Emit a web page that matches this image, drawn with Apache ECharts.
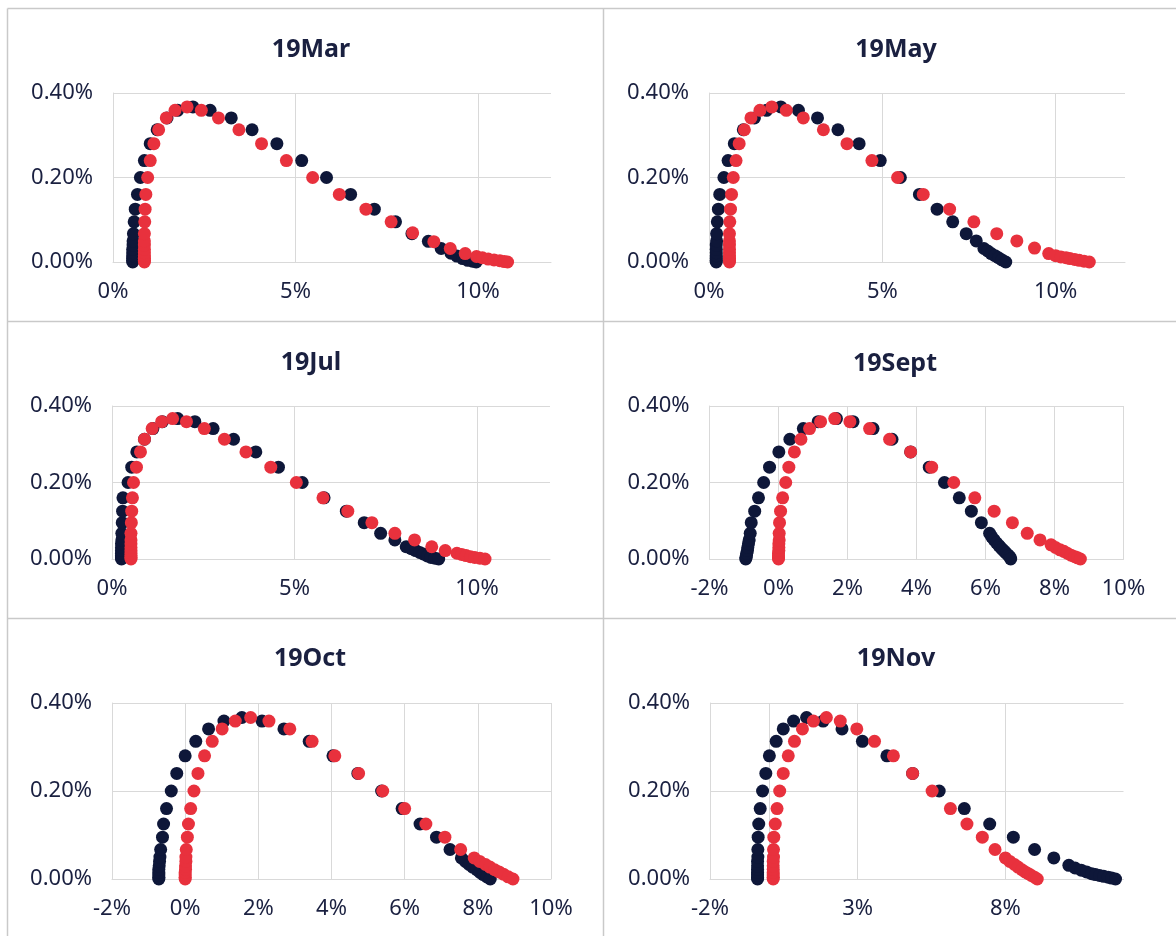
<!DOCTYPE html>
<html>
<head>
<meta charset="utf-8">
<script src="https://cdn.jsdelivr.net/npm/echarts@6/dist/echarts.min.js"></script>
<style>
html,body{margin:0;padding:0;background:#fff;}
#chart{width:1176px;height:936px;}
</style>
</head>
<body>
<div id="chart"></div>
<script>
// ---- data (x in %, y in %) ----
const titles = ['19Mar', '19May', '19Jul', '19Sept', '19Oct', '19Nov'];
const seriesNames = ['Series A', 'Series B'];

const mar_a = [[0.54,0],[0.54,0.004],[0.54,0.009],[0.54,0.015],[0.54,0.022],[0.54,0.03],[0.55,0.04],[0.55,0.05],[0.56,0.067],[0.58,0.095],[0.61,0.125],[0.67,0.16],[0.75,0.20],[0.86,0.24],[1.02,0.28],[1.21,0.313],[1.48,0.341],[1.77,0.359],[2.19,0.367],[2.66,0.359],[3.24,0.341],[3.81,0.313],[4.49,0.28],[5.17,0.24],[5.85,0.20],[6.51,0.16],[7.16,0.125],[7.74,0.095],[8.19,0.067],[8.64,0.049],[8.99,0.032],[9.26,0.021],[9.42,0.014],[9.58,0.008],[9.72,0.004],[9.85,0.002],[9.95,0]];
const mar_b = [[0.86,0],[0.86,0.004],[0.86,0.009],[0.86,0.015],[0.86,0.022],[0.86,0.03],[0.86,0.04],[0.86,0.05],[0.86,0.067],[0.87,0.095],[0.88,0.125],[0.90,0.16],[0.95,0.20],[1.02,0.24],[1.12,0.28],[1.25,0.313],[1.46,0.341],[1.70,0.359],[2.03,0.367],[2.42,0.359],[2.89,0.341],[3.45,0.313],[4.07,0.28],[4.75,0.24],[5.47,0.20],[6.20,0.16],[6.93,0.125],[7.62,0.095],[8.21,0.069],[8.79,0.048],[9.24,0.032],[9.65,0.02],[9.96,0.013],[10.12,0.01],[10.28,0.007],[10.44,0.005],[10.6,0.003],[10.72,0.001],[10.81,0]];

const may_a = [[0.21,0],[0.21,0.004],[0.21,0.009],[0.21,0.015],[0.21,0.022],[0.21,0.03],[0.21,0.04],[0.22,0.05],[0.22,0.067],[0.24,0.095],[0.27,0.125],[0.31,0.16],[0.43,0.20],[0.55,0.24],[0.73,0.28],[0.99,0.313],[1.31,0.341],[1.66,0.359],[2.07,0.367],[2.58,0.359],[3.13,0.341],[3.72,0.313],[4.33,0.28],[4.94,0.24],[5.52,0.20],[6.07,0.16],[6.58,0.125],[7.03,0.095],[7.42,0.067],[7.71,0.05],[7.93,0.032],[8.04,0.026],[8.14,0.02],[8.25,0.015],[8.35,0.01],[8.45,0.005],[8.56,0]];
const may_b = [[0.59,0],[0.59,0.004],[0.59,0.009],[0.59,0.015],[0.59,0.022],[0.59,0.03],[0.59,0.04],[0.59,0.05],[0.59,0.067],[0.60,0.095],[0.62,0.125],[0.65,0.16],[0.70,0.20],[0.78,0.24],[0.87,0.28],[1.02,0.313],[1.21,0.341],[1.47,0.359],[1.81,0.367],[2.23,0.359],[2.72,0.341],[3.30,0.313],[3.98,0.28],[4.70,0.24],[5.44,0.20],[6.18,0.16],[6.94,0.125],[7.64,0.095],[8.30,0.067],[8.88,0.05],[9.39,0.033],[9.80,0.02],[10.0,0.015],[10.15,0.012],[10.3,0.01],[10.41,0.008],[10.55,0.006],[10.68,0.004],[10.82,0.002],[10.97,0]];

const jul_a = [[0.26,0],[0.26,0.004],[0.26,0.009],[0.26,0.015],[0.26,0.022],[0.26,0.03],[0.26,0.04],[0.27,0.05],[0.27,0.067],[0.28,0.095],[0.29,0.125],[0.30,0.16],[0.44,0.20],[0.54,0.24],[0.68,0.28],[0.89,0.313],[1.12,0.341],[1.38,0.359],[1.80,0.367],[2.27,0.359],[2.77,0.341],[3.33,0.313],[3.94,0.28],[4.56,0.24],[5.21,0.20],[5.81,0.16],[6.42,0.125],[6.91,0.095],[7.36,0.067],[7.75,0.05],[8.06,0.032],[8.2,0.027],[8.32,0.022],[8.43,0.017],[8.53,0.013],[8.64,0.008],[8.74,0.004],[8.85,0.002],[8.95,0]];
const jul_b = [[0.52,0],[0.52,0.004],[0.52,0.009],[0.52,0.015],[0.52,0.022],[0.52,0.03],[0.52,0.04],[0.52,0.05],[0.52,0.067],[0.53,0.095],[0.54,0.125],[0.56,0.16],[0.59,0.20],[0.67,0.24],[0.78,0.28],[0.89,0.313],[1.10,0.341],[1.36,0.359],[1.66,0.367],[2.04,0.359],[2.53,0.341],[3.08,0.313],[3.67,0.28],[4.35,0.24],[5.05,0.20],[5.78,0.16],[6.46,0.125],[7.12,0.095],[7.75,0.067],[8.29,0.05],[8.76,0.032],[9.13,0.022],[9.45,0.015],[9.58,0.012],[9.70,0.009],[9.82,0.006],[9.94,0.004],[10.08,0.002],[10.22,0]];

const sep_a = [[-0.95,0],[-0.94,0.004],[-0.93,0.009],[-0.92,0.015],[-0.90,0.022],[-0.89,0.03],[-0.87,0.04],[-0.85,0.05],[-0.82,0.067],[-0.79,0.095],[-0.69,0.125],[-0.58,0.16],[-0.43,0.20],[-0.26,0.24],[0.01,0.28],[0.33,0.313],[0.72,0.341],[1.15,0.359],[1.68,0.367],[2.16,0.359],[2.74,0.341],[3.29,0.313],[3.83,0.28],[4.37,0.24],[4.81,0.20],[5.24,0.16],[5.59,0.125],[5.88,0.095],[6.12,0.067],[6.18,0.058],[6.25,0.05],[6.32,0.042],[6.39,0.035],[6.44,0.03],[6.49,0.025],[6.55,0.02],[6.60,0.015],[6.66,0.01],[6.71,0.005],[6.73,0]];
const sep_b = [[0.0,0],[0.0,0.004],[0.0,0.009],[0.0,0.015],[0.01,0.022],[0.01,0.03],[0.01,0.04],[0.02,0.05],[0.02,0.067],[0.03,0.095],[0.06,0.125],[0.12,0.16],[0.21,0.20],[0.30,0.24],[0.46,0.28],[0.65,0.313],[0.90,0.341],[1.22,0.359],[1.63,0.367],[2.07,0.359],[2.64,0.341],[3.22,0.313],[3.83,0.28],[4.44,0.24],[5.08,0.20],[5.69,0.16],[6.25,0.125],[6.78,0.095],[7.21,0.067],[7.58,0.05],[7.90,0.037],[8.03,0.03],[8.16,0.024],[8.27,0.02],[8.37,0.015],[8.48,0.01],[8.59,0.006],[8.67,0.003],[8.75,0]];

const oct_a = [[-0.72,0],[-0.72,0.004],[-0.72,0.009],[-0.72,0.015],[-0.72,0.022],[-0.71,0.03],[-0.70,0.04],[-0.69,0.05],[-0.67,0.067],[-0.62,0.095],[-0.59,0.125],[-0.51,0.16],[-0.38,0.20],[-0.23,0.24],[0.0,0.28],[0.29,0.313],[0.64,0.341],[1.06,0.359],[1.55,0.367],[2.10,0.359],[2.70,0.341],[3.39,0.313],[4.04,0.28],[4.72,0.24],[5.37,0.20],[5.93,0.16],[6.42,0.125],[6.87,0.095],[7.24,0.067],[7.55,0.048],[7.66,0.04],[7.76,0.033],[7.86,0.027],[7.97,0.021],[8.06,0.015],[8.15,0.01],[8.25,0.005],[8.34,0]];
const oct_b = [[0.0,0],[0.0,0.004],[0.0,0.009],[0.0,0.015],[0.01,0.022],[0.01,0.03],[0.02,0.04],[0.02,0.05],[0.03,0.067],[0.06,0.095],[0.09,0.125],[0.15,0.16],[0.24,0.20],[0.35,0.24],[0.53,0.28],[0.74,0.313],[1.01,0.341],[1.37,0.359],[1.79,0.367],[2.29,0.359],[2.86,0.341],[3.47,0.313],[4.09,0.28],[4.74,0.24],[5.40,0.20],[6.00,0.16],[6.58,0.125],[7.10,0.095],[7.53,0.067],[7.90,0.048],[8.05,0.04],[8.21,0.033],[8.33,0.027],[8.46,0.021],[8.58,0.016],[8.70,0.011],[8.83,0.005],[8.96,0]];

const nov_a = [[-0.39,0],[-0.39,0.004],[-0.39,0.009],[-0.39,0.015],[-0.39,0.022],[-0.39,0.03],[-0.39,0.04],[-0.38,0.05],[-0.38,0.067],[-0.37,0.095],[-0.35,0.125],[-0.30,0.16],[-0.22,0.20],[-0.11,0.24],[0.01,0.28],[0.24,0.313],[0.48,0.341],[0.83,0.359],[1.27,0.367],[1.83,0.359],[2.47,0.341],[3.16,0.313],[3.99,0.28],[4.86,0.24],[5.76,0.20],[6.61,0.16],[7.47,0.125],[8.27,0.095],[8.99,0.067],[9.64,0.048],[10.15,0.031],[10.36,0.025],[10.57,0.02],[10.75,0.016],[10.92,0.012],[11.05,0.01],[11.19,0.008],[11.33,0.006],[11.48,0.004],[11.6,0.002],[11.73,0]];
const nov_b = [[0.14,0],[0.14,0.004],[0.14,0.009],[0.14,0.015],[0.14,0.022],[0.14,0.03],[0.14,0.04],[0.15,0.05],[0.15,0.067],[0.16,0.095],[0.21,0.125],[0.27,0.16],[0.36,0.20],[0.48,0.24],[0.65,0.28],[0.86,0.313],[1.13,0.341],[1.50,0.359],[1.94,0.367],[2.41,0.359],[2.97,0.341],[3.57,0.313],[4.21,0.28],[4.86,0.24],[5.52,0.20],[6.14,0.16],[6.70,0.125],[7.22,0.095],[7.65,0.067],[8.00,0.048],[8.15,0.04],[8.31,0.033],[8.43,0.027],[8.56,0.021],[8.67,0.016],[8.78,0.012],[8.88,0.008],[8.99,0.004],[9.08,0]];

// axis ranges
const xMins = [0, 0, 0, -2, -2, -2];
const xMaxs = [12, 12, 12, 10, 10, 12];
const xIntervals = [5, 5, 5, 2, 2, 5];
const yMin = 0, yMax = 0.4, yInterval = 0.2;

const panelData = [[mar_a, mar_b], [may_a, may_b], [jul_a, jul_b], [sep_a, sep_b], [oct_a, oct_b], [nov_a, nov_b]];

// ---- layout ----
const grids = [
  {left: 113, top: 93, width: 438, height: 169},
  {left: 709, top: 93, width: 416, height: 169},
  {left: 112, top: 406, width: 438, height: 153},
  {left: 709.5, top: 406, width: 414, height: 153},
  {left: 112, top: 703, width: 439, height: 176},
  {left: 710, top: 703, width: 413.5, height: 176}
];
const titleCenters = [[306, 46], [891, 46], [306, 359], [890, 360], [305, 655], [891, 655]];

const NAVY = '#0e1739';
const RED = '#e8313d';
const TEXT = '#1a2040';
const GRID = '#d9d9d9';
const FONT = "'Noto Sans', 'Open Sans', sans-serif";

const chart = echarts.init(document.getElementById('chart'), null, {renderer: 'canvas'});

const option = {
  backgroundColor: '#fff',
  animation: false,
  title: titles.map((t, i) => ({
    text: t,
    left: titleCenters[i][0],
    top: titleCenters[i][1] - 17,
    textAlign: 'center',
    textStyle: {fontFamily: FONT, fontSize: 25, fontWeight: 'bold', color: TEXT, lineHeight: 32}
  })),
  grid: grids.map(g => Object.assign({containLabel: false}, g)),
  xAxis: grids.map((g, i) => {
    const hideLast = ((xMaxs[i] - xMins[i]) % xIntervals[i]) !== 0;
    const nTicks = Math.floor((xMaxs[i] - xMins[i]) / xIntervals[i]) + 1;
    const colors = [];
    for (let k = 0; k < nTicks; k++) colors.push(GRID);
    if (hideLast) colors.push('rgba(0,0,0,0)');
    return {
      type: 'value', gridIndex: i,
      min: xMins[i], max: xMaxs[i], interval: xIntervals[i],
      axisLine: {show: true, onZero: false, lineStyle: {color: GRID, width: 1}},
      axisTick: {show: false},
      splitLine: {show: true, lineStyle: {color: colors, width: 1}},
      axisLabel: {
        showMaxLabel: !hideLast,
        margin: 19,
        fontFamily: FONT, fontSize: 22, color: TEXT,
        formatter: v => v + '%'
      }
    };
  }),
  yAxis: grids.map((g, i) => ({
    type: 'value', gridIndex: i,
    min: yMin, max: yMax, interval: yInterval,
    axisLine: {show: true, onZero: false, lineStyle: {color: GRID, width: 1}},
    axisTick: {show: false},
    splitLine: {show: true, lineStyle: {color: GRID, width: 1}},
    axisLabel: {
      margin: 20,
      fontFamily: FONT, fontSize: 22, color: TEXT,
      formatter: v => v.toFixed(2) + '%'
    }
  })),
  series: [],
  graphic: [
    {type: 'line', shape: {x1: 7.5, y1: 8.5, x2: 1176, y2: 8.5}, style: {stroke: '#c9c9c9', lineWidth: 1.5}, silent: true},
    {type: 'line', shape: {x1: 7.5, y1: 8.5, x2: 7.5, y2: 936}, style: {stroke: '#c9c9c9', lineWidth: 1.5}, silent: true},
    {type: 'line', shape: {x1: 603.5, y1: 8.5, x2: 603.5, y2: 936}, style: {stroke: '#c9c9c9', lineWidth: 1.5}, silent: true},
    {type: 'line', shape: {x1: 7.5, y1: 321.5, x2: 1176, y2: 321.5}, style: {stroke: '#c9c9c9', lineWidth: 1.5}, silent: true},
    {type: 'line', shape: {x1: 7.5, y1: 618.5, x2: 1176, y2: 618.5}, style: {stroke: '#c9c9c9', lineWidth: 1.5}, silent: true}
  ]
};

panelData.forEach((pair, i) => {
  pair.forEach((arr, s) => {
    const ser = {
      type: 'scatter',
      name: seriesNames[s],
      xAxisIndex: i, yAxisIndex: i,
      data: arr,
      symbol: 'circle',
      symbolSize: 13,
      itemStyle: {color: s === 0 ? NAVY : RED, opacity: 1},
      z: 2 + s
    };
    if (s === 0 && xMins[i] < 0 && ((0 - xMins[i]) % xIntervals[i]) !== 0) {
      ser.markLine = {
        silent: true, symbol: 'none', label: {show: false},
        lineStyle: {color: GRID, type: 'solid', width: 1},
        data: [{xAxis: 0}],
        z: 1
      };
    }
    option.series.push(ser);
  });
});

chart.setOption(option);
</script>
</body>
</html>
